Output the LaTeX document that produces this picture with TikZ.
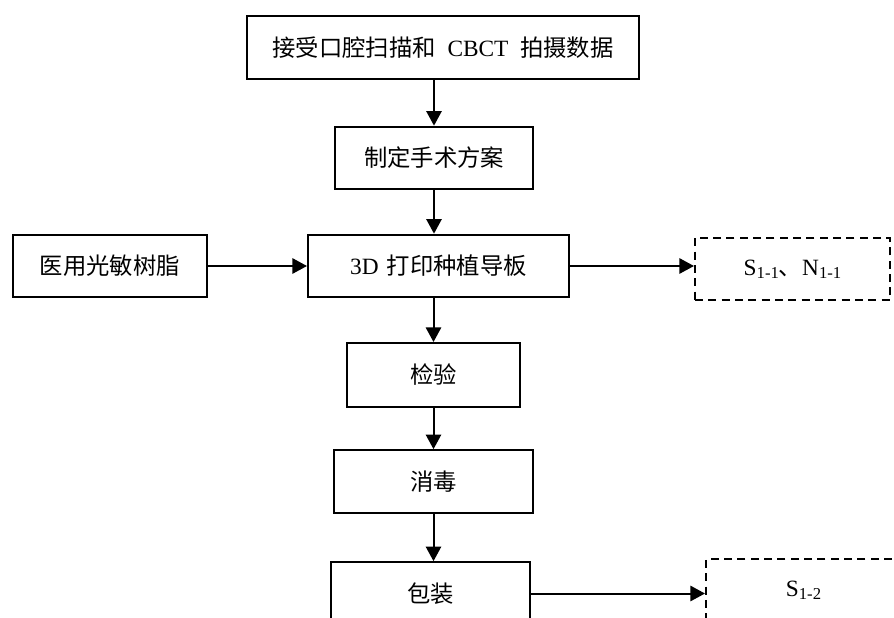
\documentclass[tikz,border=0pt]{standalone}
\usepackage{fontspec}
\setmainfont{Liberation Serif}
\newfontfamily\cjk{Noto Sans CJK SC}
\usetikzlibrary{arrows.meta, positioning, calc}
\newcommand{\lowidx}[1]{\raisebox{-0.3ex}{\fontsize{12.5pt}{14pt}\selectfont #1}}
\tikzset{
  step box/.style={draw, line width=1.5pt, fill=white, minimum height=47pt, inner sep=0pt, align=center, font=\fontsize{17.5pt}{20pt}\selectfont},
  out box/.style={step box, dash pattern=on 6pt off 4pt},
  myarrow/.style={-{Triangle[length=11pt, width=11.5pt]}, line width=1.5pt}
}
\begin{document}
\begin{tikzpicture}[x=0.75pt, y=-0.75pt]
  \clip (0,0) rectangle (894,618);
  \useasboundingbox (0,0) rectangle (894,618);

  % Main process chain
  \node[step box, minimum width=294pt] (scan) at (443,47.5) {{\cjk 接受口腔扫描和}\hspace{0.5em}CBCT\hspace{0.5em}{\cjk 拍摄数据}};
  \node[step box, minimum width=148.5pt] (plan) at (434,158) {\cjk 制定手术方案};
  \node[step box, minimum width=195.75pt] (print) at (438.5,266) {3D\hspace{0.35em}{\cjk 打印种植导板}};
  \node[step box, minimum width=129.75pt, minimum height=48pt] (inspect) at (433.5,375) {\cjk 检验};
  \node[step box, minimum width=149.25pt] (disinfect) at (433.5,481.5) {\cjk 消毒};
  \node[step box, minimum width=149.25pt] (pack) at (430.5,593.5) {\cjk 包装};

  % Material input and outputs
  \node[step box, minimum width=145.5pt] (resin) at (110,266) {\cjk 医用光敏树脂};
  \node[out box, minimum width=146.25pt] (waste1) at (792.5,269) {S\lowidx{1-1}{\cjk 、}N\lowidx{1-1}};
  \node[out box, minimum width=146.25pt] (waste2) at (803.5,590.5) {S\lowidx{1-2}};

  % Vertical flow
  \draw[myarrow] (scan.south -| plan.north) -- (plan.north);
  \draw[myarrow] (plan.south) -- (plan.south |- print.north);
  \draw[myarrow] (inspect.north |- print.south) -- (inspect.north);
  \draw[myarrow] (inspect.south) -- (inspect.south |- disinfect.north);
  \draw[myarrow] (disinfect.south) -- (disinfect.south |- pack.north);

  % Side flows
  \draw[myarrow] (resin.east) -- (print.west);
  \draw[myarrow] (print.east) -- (print.east -| waste1.west);
  \draw[myarrow] (pack.east) -- (pack.east -| waste2.west);
\end{tikzpicture}
\end{document}
